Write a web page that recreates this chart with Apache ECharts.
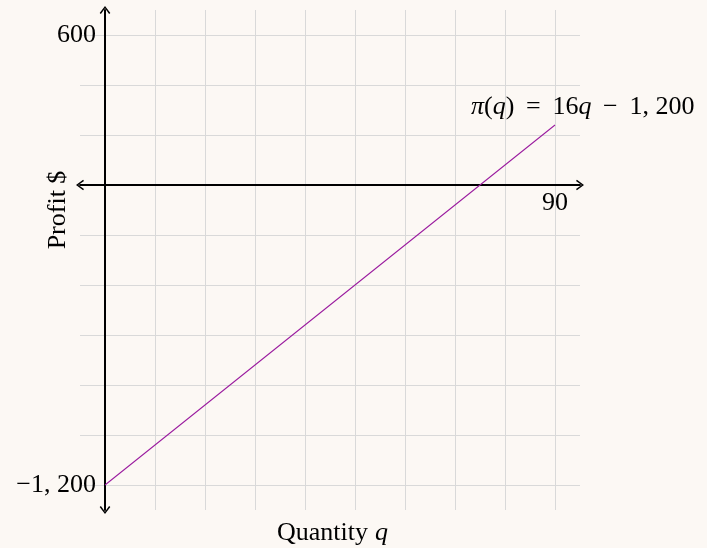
<!DOCTYPE html>
<html>
<head>
<meta charset="utf-8">
<script src="https://cdn.jsdelivr.net/npm/echarts@6/dist/echarts.min.js"></script>
<style>
  html, body { margin: 0; padding: 0; background: #fcf8f4; }
  #main { width: 707px; height: 548px; }
</style>
</head>
<body>
<div id="main"></div>
<script>
// grid positions (data units)
var qGrid = [0, 10, 20, 30, 40, 50, 60, 70, 80, 90];
var profitGrid = [-1200, -1000, -800, -600, -400, -200, 0, 200, 400, 600];
// labelled ticks
var qLabels = [90];
var profitLabels = [-1200, 600];
// the profit line
var qValues = [0, 90];
var profitValues = [-1200, 240];

var serif = '"Liberation Serif", "DejaVu Serif", serif';
var arrow = 'path://M0,8 L6,0 L12,8 L10.6,9 L6,2.6 L1.4,9 Z';

var lineData = [];
for (var i = 0; i < qValues.length; i++) lineData.push([qValues[i], profitValues[i]]);

var gridLines = [];
for (var i = 0; i < qGrid.length; i++) gridLines.push({ xAxis: qGrid[i] });
for (var i = 0; i < profitGrid.length; i++) gridLines.push({ yAxis: profitGrid[i] });

var xTickPts = [];
for (var i = 0; i < qLabels.length; i++) xTickPts.push([qLabels[i], 0]);
var yTickPts = [];
for (var i = 0; i < profitLabels.length; i++) yTickPts.push([0, profitLabels[i]]);

function fmt(v) {
  var s = Math.abs(v).toString().replace(/\B(?=(\d{3})+(?!\d))/g, ', ');
  return (v < 0 ? '\u2212' : '') + s;
}

var axisCommon = {
  type: 'value', z: 5,
  splitLine: { show: false },
  axisTick: { show: false },
  axisLabel: { show: false },
  axisLine: { onZero: true, symbol: [arrow, arrow], symbolSize: [11, 8],
    lineStyle: { color: '#000', width: 2 } }
};

var chart = echarts.init(document.getElementById('main'));
chart.setOption({
  backgroundColor: '#fcf8f4',
  animation: false,
  grid: { left: 80, right: 127, top: 10, bottom: 38 },
  xAxis: echarts.util.merge({ min: -5, max: 95 }, axisCommon),
  yAxis: echarts.util.merge({ min: -1300, max: 700 }, axisCommon),
  series: [
    {
      type: 'line', data: [], z: 0, silent: true,
      markLine: {
        silent: true, symbol: 'none', label: { show: false },
        lineStyle: { color: '#d9d9d9', width: 1, type: 'solid' },
        data: gridLines
      }
    },
    {
      type: 'line', data: lineData, z: 10, showSymbol: false, silent: true,
      lineStyle: { color: '#9a1a9e', width: 1.1 },
      endLabel: {
        show: true, offset: [-92, -18],
        fontFamily: serif, fontSize: 26, color: '#000',
        formatter: '{i|\u03c0}({i|q}) \u2009= \u200916{i|q} \u2009\u2212 \u20091, 200',
        rich: { i: { fontStyle: 'italic', fontFamily: serif, fontSize: 26 } }
      }
    },
    {
      type: 'scatter', data: xTickPts, symbolSize: 0, silent: true, z: 6,
      itemStyle: { opacity: 1 },
      label: { show: true, position: 'bottom', distance: 5, color: '#000',
        opacity: 1, fontFamily: serif, fontSize: 26,
        formatter: function (p) { return fmt(p.value[0]); } }
    },
    {
      type: 'scatter', data: yTickPts, symbolSize: 0, silent: true, z: 6,
      itemStyle: { opacity: 1 },
      label: { show: true, position: 'left', distance: 9, color: '#000',
        opacity: 1, fontFamily: serif, fontSize: 26,
        formatter: function (p) { return fmt(p.value[1]); } }
    }
  ],
  graphic: [
    { type: 'text', x: 368, y: 533, style: { text: 'Quantity', fill: '#000',
      font: '26px ' + serif, textAlign: 'right', textVerticalAlign: 'middle' } },
    { type: 'text', x: 375, y: 533, style: { text: 'q', fill: '#000',
      font: 'italic 26px ' + serif, textAlign: 'left', textVerticalAlign: 'middle' } },
    { type: 'text', x: 58, y: 210, rotation: Math.PI / 2, style: { text: 'Profit $', fill: '#000',
      font: '26px ' + serif, textAlign: 'center', textVerticalAlign: 'middle' } }
  ]
});
</script>
</body>
</html>
